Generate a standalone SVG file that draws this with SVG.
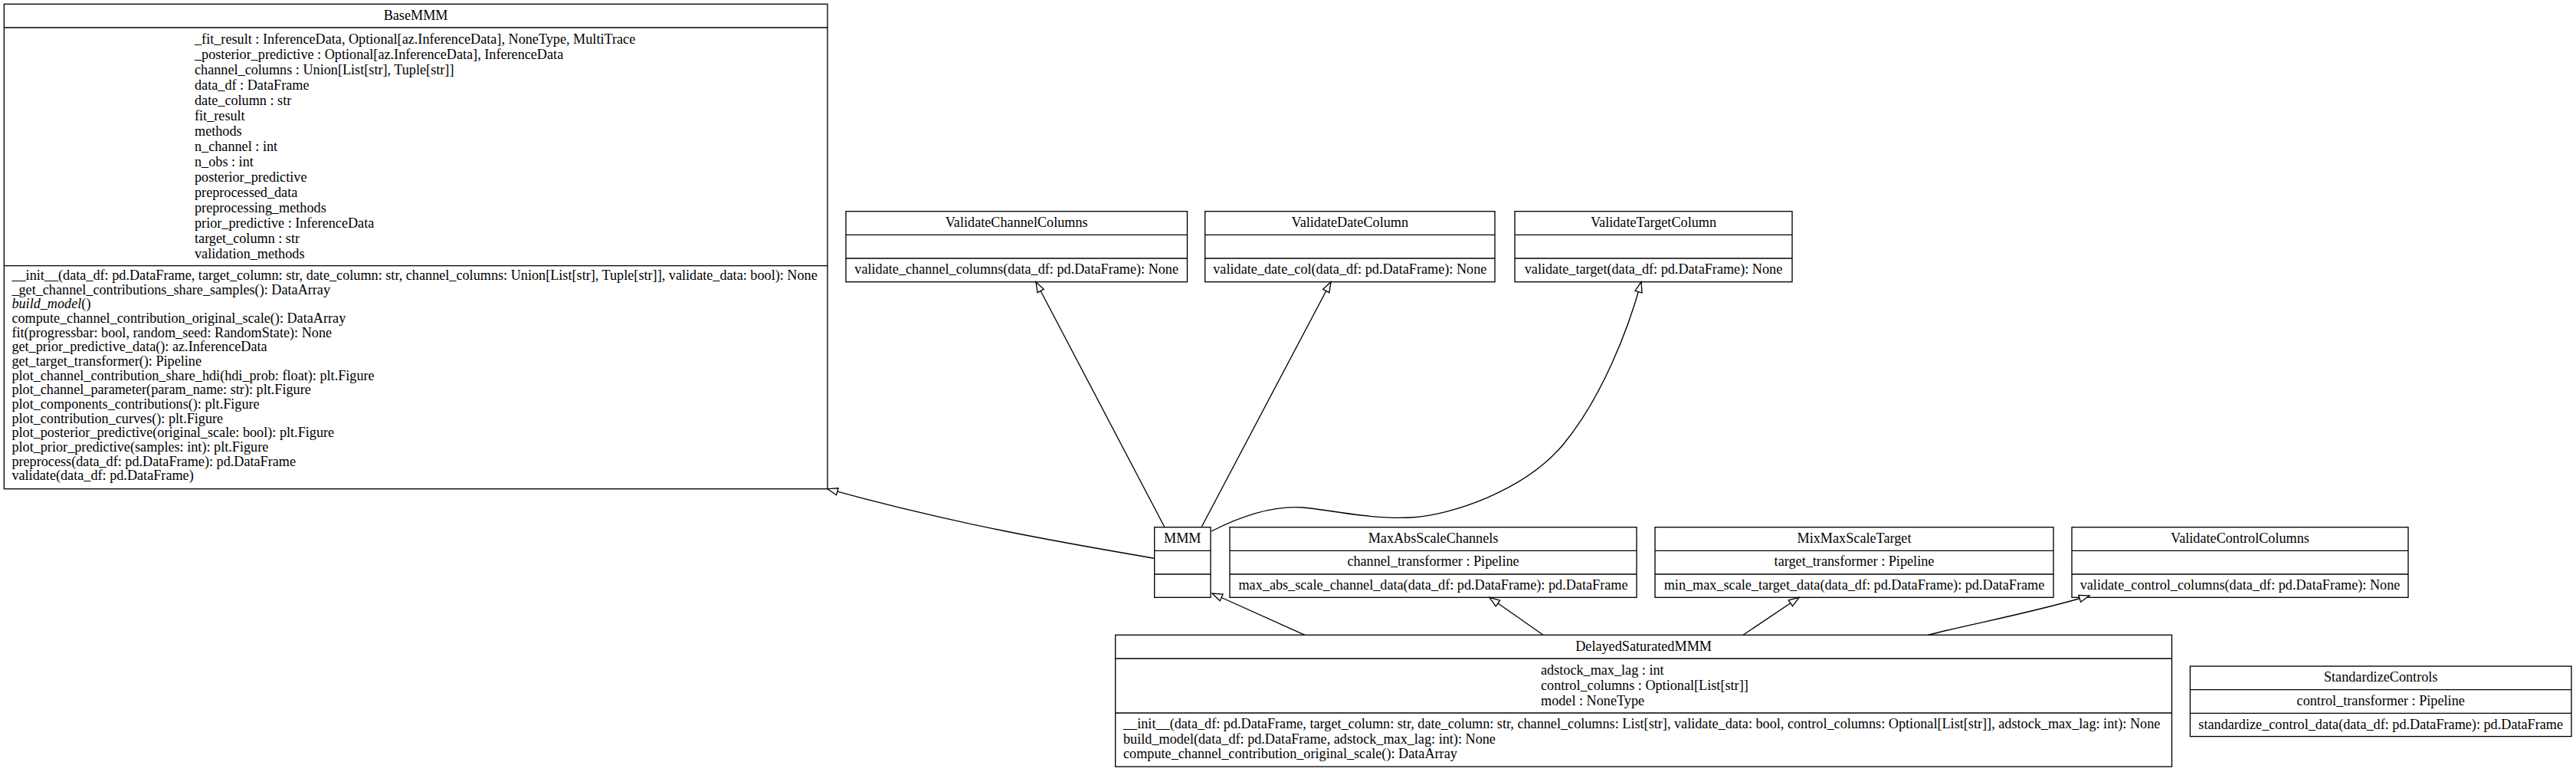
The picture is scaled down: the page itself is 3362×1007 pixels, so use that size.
<svg xmlns="http://www.w3.org/2000/svg" width="3362" height="1007" viewBox="0 0 3362 1007">
<style>
.box{fill:none;stroke:#000;stroke-width:1.33}
.div{stroke:#000;stroke-width:1.33}
text{font-family:"Liberation Serif","Times New Roman",serif;font-size:18.2px;fill:#000}
.c{text-anchor:middle}
.edge{fill:none;stroke:#000;stroke-width:1.33;marker-end:url(#tri)}
</style>
<defs>
<marker id="tri" markerUnits="userSpaceOnUse" markerWidth="16" markerHeight="12" refX="13.33" refY="4.67" orient="auto" overflow="visible">
<path d="M0,0 L13.33,4.67 L0,9.33 Z" fill="#fff" stroke="#000" stroke-width="1.33"/>
</marker>
</defs>
<rect width="3362" height="1007" fill="#fff"/>

<g id="BaseMMM">
<rect class="box" x="5.3" y="5.3" width="1074.7" height="632.4"/>
<line class="div" x1="5.3" y1="36" x2="1080" y2="36"/>
<line class="div" x1="5.3" y1="346.7" x2="1080" y2="346.7"/>
<text class="c" x="542.6" y="26">BaseMMM</text>
<text x="254" y="57">_fit_result : InferenceData, Optional[az.InferenceData], NoneType, MultiTrace</text>
<text x="254" y="77">_posterior_predictive : Optional[az.InferenceData], InferenceData</text>
<text x="254" y="97">channel_columns : Union[List[str], Tuple[str]]</text>
<text x="254" y="117">data_df : DataFrame</text>
<text x="254" y="137">date_column : str</text>
<text x="254" y="157">fit_result</text>
<text x="254" y="177">methods</text>
<text x="254" y="197">n_channel : int</text>
<text x="254" y="217">n_obs : int</text>
<text x="254" y="237">posterior_predictive</text>
<text x="254" y="257">preprocessed_data</text>
<text x="254" y="277">preprocessing_methods</text>
<text x="254" y="297">prior_predictive : InferenceData</text>
<text x="254" y="317">target_column : str</text>
<text x="254" y="337">validation_methods</text>
<text x="15.4" y="365">__init__(data_df: pd.DataFrame, target_column: str, date_column: str, channel_columns: Union[List[str], Tuple[str]], validate_data: bool): None</text>
<text x="15.4" y="383.6">_get_channel_contributions_share_samples(): DataArray</text>
<text x="15.4" y="402.3"><tspan font-style="italic">build_model</tspan>()</text>
<text x="15.4" y="421">compute_channel_contribution_original_scale(): DataArray</text>
<text x="15.4" y="439.6">fit(progressbar: bool, random_seed: RandomState): None</text>
<text x="15.4" y="458.3">get_prior_predictive_data(): az.InferenceData</text>
<text x="15.4" y="477">get_target_transformer(): Pipeline</text>
<text x="15.4" y="495.6">plot_channel_contribution_share_hdi(hdi_prob: float): plt.Figure</text>
<text x="15.4" y="514.3">plot_channel_parameter(param_name: str): plt.Figure</text>
<text x="15.4" y="533">plot_components_contributions(): plt.Figure</text>
<text x="15.4" y="551.6">plot_contribution_curves(): plt.Figure</text>
<text x="15.4" y="570.3">plot_posterior_predictive(original_scale: bool): plt.Figure</text>
<text x="15.4" y="589">plot_prior_predictive(samples: int): plt.Figure</text>
<text x="15.4" y="607.6">preprocess(data_df: pd.DataFrame): pd.DataFrame</text>
<text x="15.4" y="626.3">validate(data_df: pd.DataFrame)</text>
</g>

<g id="ValidateChannelColumns">
<rect class="box" x="1104" y="275.7" width="445.5" height="92"/>
<line class="div" x1="1104" y1="306.3" x2="1549.5" y2="306.3"/>
<line class="div" x1="1104" y1="337" x2="1549.5" y2="337"/>
<text class="c" x="1326.7" y="295.7">ValidateChannelColumns</text>
<text class="c" x="1326.7" y="357">validate_channel_columns(data_df: pd.DataFrame): None</text>
</g>

<g id="ValidateDateColumn">
<rect class="box" x="1572.7" y="275.7" width="378.3" height="92"/>
<line class="div" x1="1572.7" y1="306.3" x2="1951" y2="306.3"/>
<line class="div" x1="1572.7" y1="337" x2="1951" y2="337"/>
<text class="c" x="1761.8" y="295.7">ValidateDateColumn</text>
<text class="c" x="1761.8" y="357">validate_date_col(data_df: pd.DataFrame): None</text>
</g>

<g id="ValidateTargetColumn">
<rect class="box" x="1977" y="275.7" width="362" height="92"/>
<line class="div" x1="1977" y1="306.3" x2="2339" y2="306.3"/>
<line class="div" x1="1977" y1="337" x2="2339" y2="337"/>
<text class="c" x="2158" y="295.7">ValidateTargetColumn</text>
<text class="c" x="2158" y="357">validate_target(data_df: pd.DataFrame): None</text>
</g>

<g id="MMM">
<rect class="box" x="1506.7" y="687.7" width="73.3" height="91.6"/>
<line class="div" x1="1506.7" y1="718.3" x2="1580" y2="718.3"/>
<line class="div" x1="1506.7" y1="749" x2="1580" y2="749"/>
<text class="c" x="1543.3" y="707.7">MMM</text>
</g>

<g id="MaxAbsScaleChannels">
<rect class="box" x="1605" y="687.7" width="531" height="91.6"/>
<line class="div" x1="1605" y1="718.3" x2="2136" y2="718.3"/>
<line class="div" x1="1605" y1="749" x2="2136" y2="749"/>
<text class="c" x="1870.5" y="707.7">MaxAbsScaleChannels</text>
<text class="c" x="1870.5" y="738.3">channel_transformer : Pipeline</text>
<text class="c" x="1870.5" y="769">max_abs_scale_channel_data(data_df: pd.DataFrame): pd.DataFrame</text>
</g>

<g id="MixMaxScaleTarget">
<rect class="box" x="2160" y="687.7" width="520" height="91.6"/>
<line class="div" x1="2160" y1="718.3" x2="2680" y2="718.3"/>
<line class="div" x1="2160" y1="749" x2="2680" y2="749"/>
<text class="c" x="2420" y="707.7">MixMaxScaleTarget</text>
<text class="c" x="2420" y="738.3">target_transformer : Pipeline</text>
<text class="c" x="2420" y="769">min_max_scale_target_data(data_df: pd.DataFrame): pd.DataFrame</text>
</g>

<g id="ValidateControlColumns">
<rect class="box" x="2704" y="687.7" width="439" height="91.6"/>
<line class="div" x1="2704" y1="718.3" x2="3143" y2="718.3"/>
<line class="div" x1="2704" y1="749" x2="3143" y2="749"/>
<text class="c" x="2923.5" y="707.7">ValidateControlColumns</text>
<text class="c" x="2923.5" y="769">validate_control_columns(data_df: pd.DataFrame): None</text>
</g>

<g id="DelayedSaturatedMMM">
<rect class="box" x="1455.7" y="828.3" width="1378.8" height="171.7"/>
<line class="div" x1="1455.7" y1="859" x2="2834.5" y2="859"/>
<line class="div" x1="1455.7" y1="930" x2="2834.5" y2="930"/>
<text class="c" x="2145.1" y="849">DelayedSaturatedMMM</text>
<text x="2011" y="879.5">adstock_max_lag : int</text>
<text x="2011" y="899.5">control_columns : Optional[List[str]]</text>
<text x="2011" y="919.5">model : NoneType</text>
<text x="1466" y="950">__init__(data_df: pd.DataFrame, target_column: str, date_column: str, channel_columns: List[str], validate_data: bool, control_columns: Optional[List[str]], adstock_max_lag: int): None</text>
<text x="1466" y="969.5">build_model(data_df: pd.DataFrame, adstock_max_lag: int): None</text>
<text x="1466" y="989">compute_channel_contribution_original_scale(): DataArray</text>
</g>

<g id="StandardizeControls">
<rect class="box" x="2858.4" y="869" width="497.6" height="91.6"/>
<line class="div" x1="2858.4" y1="899.7" x2="3356" y2="899.7"/>
<line class="div" x1="2858.4" y1="930.3" x2="3356" y2="930.3"/>
<text class="c" x="3107.2" y="889">StandardizeControls</text>
<text class="c" x="3107.2" y="920">control_transformer : Pipeline</text>
<text class="c" x="3107.2" y="950.5">standardize_control_data(data_df: pd.DataFrame): pd.DataFrame</text>
</g>

<g id="connectors">
<path class="edge" d="M1506.7,728.3 C1400,710 1250,685 1080,637.7"/>
<path class="edge" d="M1520,687.7 L1352,367.7"/>
<path class="edge" d="M1568,687.7 L1737,367.7"/>
<path class="edge" d="M1581,693 C1630,668 1670,660 1700,662 S1790,678 1842,675 S1990,640 2040,580 S2125,430 2142,367.7"/>
<path class="edge" d="M1703,828.3 L1582,774"/>
<path class="edge" d="M2014,828.3 L1944,779.3"/>
<path class="edge" d="M2275,828.3 L2348,779.3"/>
<path class="edge" d="M2516,828.3 C2580,812 2650,800 2727,777"/>
</g>
</svg>
